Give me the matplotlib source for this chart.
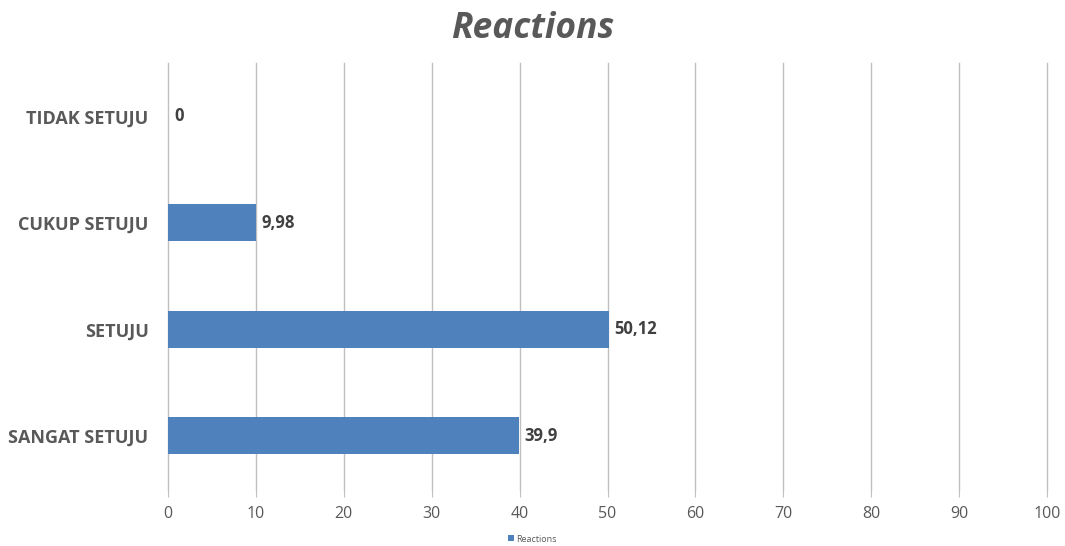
import matplotlib
matplotlib.use('Agg')
import matplotlib.pyplot as plt
import numpy as np

# data
kategori = ['SANGAT SETUJU', 'SETUJU', 'CUKUP SETUJU', 'TIDAK SETUJU']
nilai = [39.9, 50.12, 9.98, 0]
label_nilai = ['39,9', '50,12', '9,98', '0']
xticks = [0, 10, 20, 30, 40, 50, 60, 70, 80, 90, 100]

plt.rcParams['font.family'] = ['Open Sans', 'DejaVu Sans']
abu = '#595959'

fig = plt.figure(figsize=(10.65, 5.46), dpi=100)
ax = fig.add_axes([168/1065, 1-489/546, (1047-168)/1065, (489-63)/546])

y = np.arange(len(kategori))
bars = ax.barh(y, nilai, height=0.35, color='#4F81BD', label='Reactions', zorder=3)

for b, t in zip(bars, label_nilai):
    ax.text(b.get_width() + 0.7, b.get_y() + b.get_height()/2, t,
            va='center', ha='left', fontsize=12, fontweight='bold', color='#404040')

ax.set_xlim(0, 100)
ax.set_ylim(-0.5, 3.5)
ax.set_xticks(xticks)
ax.set_yticks(y)
ax.set_yticklabels(kategori, fontsize=13, fontweight='bold', color=abu)
ax.tick_params(axis='y', length=0, pad=14)
ax.tick_params(axis='x', length=6, color='#BFBFBF', labelsize=11.5, labelcolor=abu, pad=6)
ax.grid(axis='x', color='#BFBFBF', linewidth=1, zorder=0)
for g in ax.get_xgridlines():
    g.set_clip_on(False)
for s in ax.spines.values():
    s.set_visible(False)

fig.text(0.5, 1-29/546, 'Reactions', ha='center', va='center', fontsize=25.5,
         fontweight='bold', fontstyle='italic', color=abu)

fig.legend(loc='center', bbox_to_anchor=(0.5, 1-539/546), frameon=False,
           fontsize=6.5, labelcolor=abu, handlelength=0.6, handleheight=0.6,
           handletextpad=0.3)

fig.savefig('out.png', dpi=100)
